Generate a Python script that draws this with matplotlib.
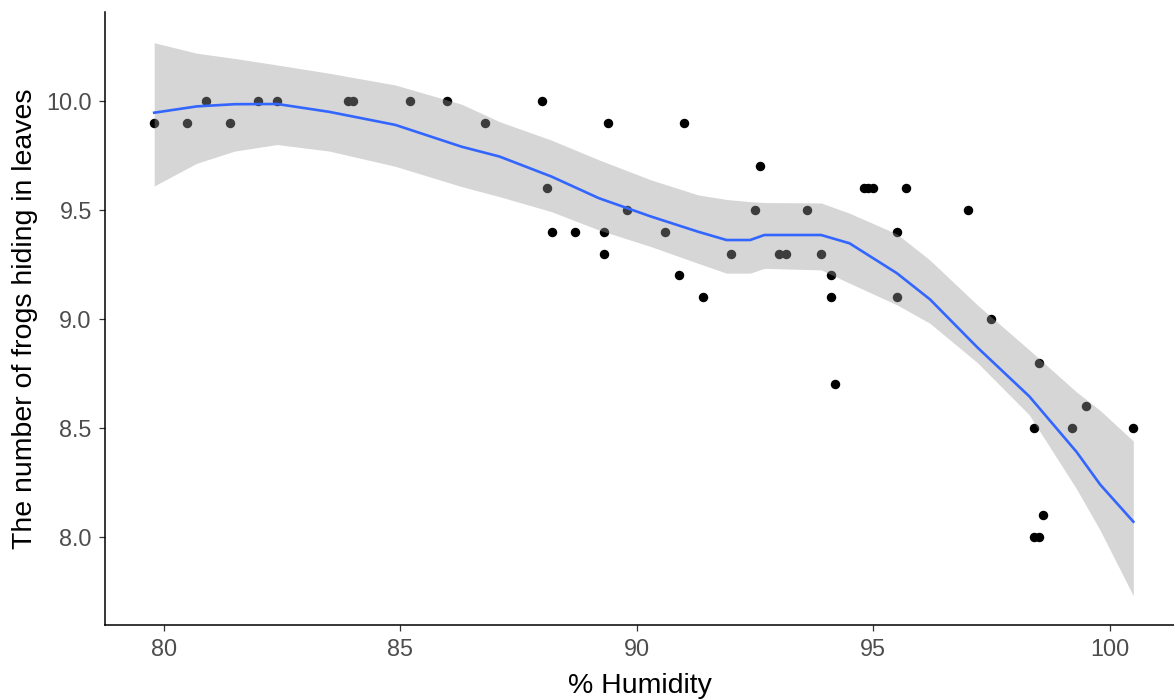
import matplotlib
matplotlib.use("Agg")
import matplotlib.pyplot as plt
import numpy as np

plt.rcParams['font.family'] = ['Liberation Sans', 'DejaVu Sans']

# observed points
humidity = [79.8, 80.5, 80.9, 81.4, 82.0, 82.4, 83.9, 84.0, 85.2, 86.0,
            86.8, 88.0, 88.1, 88.2, 88.7, 89.3, 89.3, 89.4, 89.8, 90.6,
            90.9, 91.0, 91.4, 92.0, 92.5, 92.6, 93.0, 93.15, 93.6, 93.9,
            94.1, 94.1, 94.2, 94.8, 94.9, 95.0, 95.5, 95.5, 95.7, 97.0,
            97.5, 98.4, 98.4, 98.5, 98.5, 98.6, 99.2, 99.5, 100.5]
frogs = [9.9, 9.9, 10.0, 9.9, 10.0, 10.0, 10.0, 10.0, 10.0, 10.0,
         9.9, 10.0, 9.6, 9.4, 9.4, 9.4, 9.3, 9.9, 9.5, 9.4,
         9.2, 9.9, 9.1, 9.3, 9.5, 9.7, 9.3, 9.3, 9.5, 9.3,
         9.2, 9.1, 8.7, 9.6, 9.6, 9.6, 9.4, 9.1, 9.6, 9.5,
         9.0, 8.5, 8.0, 8.0, 8.8, 8.1, 8.5, 8.6, 8.5]

# loess fit
fit_x = [79.8, 80.7, 81.5, 82.4, 83.5, 84.9, 86.3, 87.1, 88.2, 89.2,
         90.3, 91.3, 91.9, 92.4, 92.7, 93.9, 94.5, 95.5, 96.2, 97.2,
         98.3, 99.3, 99.8, 100.5]
fit_y = [9.946, 9.975, 9.985, 9.986, 9.95, 9.89, 9.79, 9.745, 9.653, 9.554,
         9.47, 9.40, 9.362, 9.362, 9.385, 9.385, 9.347, 9.21, 9.09, 8.87,
         8.645, 8.39, 8.24, 8.07]
fit_hi = [10.267, 10.219, 10.195, 10.165, 10.127, 10.073, 9.985, 9.905, 9.82, 9.73,
          9.638, 9.569, 9.548, 9.538, 9.534, 9.532, 9.485, 9.39, 9.27, 9.065,
          8.858, 8.665, 8.58, 8.44]
fit_lo = [9.61, 9.714, 9.77, 9.80, 9.77, 9.70, 9.607, 9.561, 9.492, 9.408,
          9.332, 9.255, 9.21, 9.21, 9.232, 9.225, 9.164, 9.065, 8.98, 8.80,
          8.56, 8.22, 8.03, 7.73]

fig = plt.figure(figsize=(11.74, 7.0), dpi=100)
ax = fig.add_axes([105 / 1174, 1 - 625 / 700, 1 - 105 / 1174, (625 - 12) / 700])

ax.plot(humidity, frogs, 'o', color='black', markersize=5.8, zorder=1)
ax.fill_between(fit_x, fit_lo, fit_hi, color='#999999', alpha=0.4, lw=0, zorder=2)
ax.plot(fit_x, fit_y, color='#3366FF', lw=1.9, zorder=3)

ax.set_xlim(78.76, 101.36)
ax.set_ylim(7.596, 10.408)
ax.set_xticks([80, 85, 90, 95, 100])
ax.set_yticks([8.0, 8.5, 9.0, 9.5, 10.0])
ax.set_yticklabels(['8.0', '8.5', '9.0', '9.5', '10.0'])

for s in ['top', 'right']:
    ax.spines[s].set_visible(False)
for s in ['left', 'bottom']:
    ax.spines[s].set_linewidth(1.1)
    ax.spines[s].set_color('black')
ax.tick_params(colors='#333333', labelcolor='#4D4D4D', labelsize=16.8,
               length=4.5, width=0.9)
ax.tick_params(axis='x', pad=4.5)
ax.tick_params(axis='y', pad=5)

ax.set_xlabel('% Humidity', fontsize=20.5, color='black', labelpad=9)
ax.set_ylabel('The number of frogs hiding in leaves', fontsize=20.5, color='black', labelpad=6)

fig.savefig('out.png', dpi=100)
